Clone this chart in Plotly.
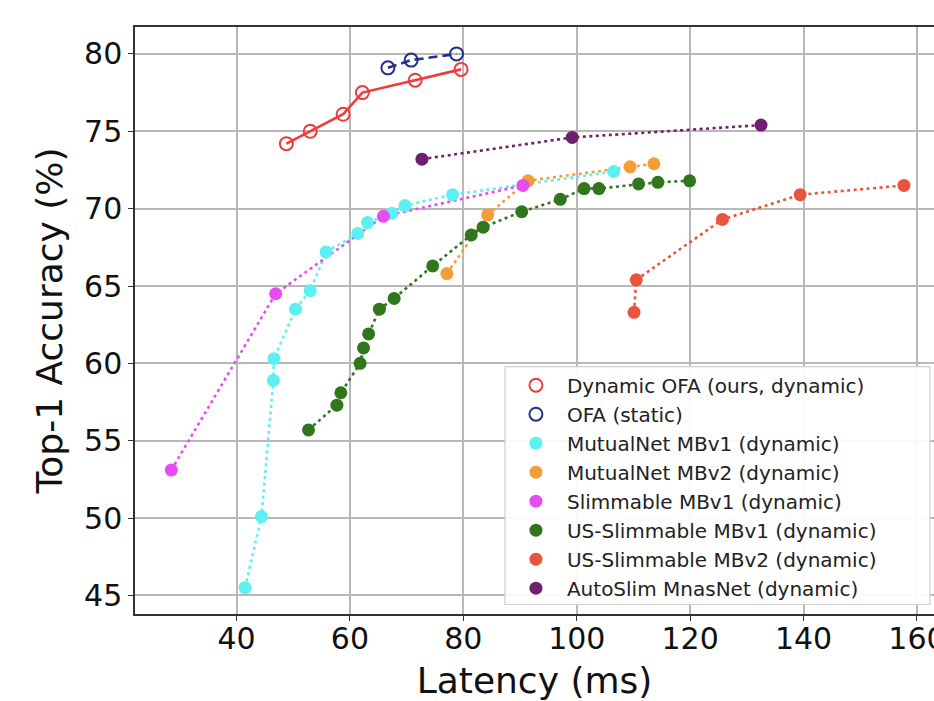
import plotly.graph_objects as go

# ---- data (latency ms, top-1 accuracy %) ----
dyn_ofa_x = [48.8, 53.0, 58.8, 62.2, 71.5, 79.6]
dyn_ofa_y = [74.2, 75.0, 76.1, 77.5, 78.3, 79.0]

ofa_x = [66.7, 70.8, 78.8]
ofa_y = [79.1, 79.6, 80.0]

mn1_x = [41.5, 44.4, 46.5, 46.6, 50.4, 53.0, 55.8, 61.4, 63.1, 67.4, 69.7, 78.1, 106.5]
mn1_y = [45.5, 50.1, 58.9, 60.3, 63.5, 64.7, 67.2, 68.4, 69.1, 69.7, 70.2, 70.9, 72.4]

mn2_x = [77.1, 84.3, 91.4, 109.4, 113.6]
mn2_y = [65.8, 69.6, 71.8, 72.7, 72.9]

sl1_x = [28.5, 46.9, 65.9, 90.5]
sl1_y = [53.1, 64.5, 69.5, 71.5]

us1_x = [52.7, 57.7, 58.4, 61.8, 62.4, 63.3, 65.2, 67.8, 74.6, 81.4, 83.5, 90.3,
         97.1, 101.3, 103.9, 110.9, 114.3, 119.9]
us1_y = [55.7, 57.3, 58.1, 60.0, 61.0, 61.9, 63.5, 64.2, 66.3, 68.3, 68.8, 69.8,
         70.6, 71.3, 71.3, 71.6, 71.7, 71.8]

us2_x = [110.1, 110.5, 125.7, 139.4, 157.7]
us2_y = [63.3, 65.4, 69.3, 70.9, 71.5]

auto_x = [72.7, 99.2, 132.5]
auto_y = [73.2, 74.6, 75.4]

x_ticks = [40, 60, 80, 100, 120, 140, 160]
y_ticks = [45, 50, 55, 60, 65, 70, 75, 80]

series = [
    ("Dynamic OFA (ours, dynamic)", dyn_ofa_x, dyn_ofa_y, "#ee3b3b", "solid", True),
    ("OFA (static)", ofa_x, ofa_y, "#252f8c", "dash", True),
    ("MutualNet MBv1 (dynamic)", mn1_x, mn1_y, "#5cf0f2", "dot", False),
    ("MutualNet MBv2 (dynamic)", mn2_x, mn2_y, "#f59d35", "dot", False),
    ("Slimmable MBv1 (dynamic)", sl1_x, sl1_y, "#e64cf3", "dot", False),
    ("US-Slimmable MBv1 (dynamic)", us1_x, us1_y, "#2f761c", "dot", False),
    ("US-Slimmable MBv2 (dynamic)", us2_x, us2_y, "#e9553c", "dot", False),
    ("AutoSlim MnasNet (dynamic)", auto_x, auto_y, "#6e1f6f", "dot", False),
]

fig = go.Figure()
for i, (name, xs, ys, col, dash, hollow) in enumerate(series):
    dashval = {"solid": "solid", "dash": "9px,5px", "dot": "3px,3.5px"}[dash]
    fig.add_trace(go.Scatter(
        x=xs, y=ys, mode="lines", showlegend=False,
        line=dict(color=col, width=2.6, dash=dashval), hoverinfo="skip"))
for i, (name, xs, ys, col, dash, hollow) in enumerate(series):
    if hollow:
        marker = dict(symbol="circle-open", size=13, color=col, line=dict(width=2, color=col))
    else:
        marker = dict(symbol="circle", size=13, color=col, line=dict(width=0))
    fig.add_trace(go.Scatter(
        x=xs, y=ys, mode="markers", name=name, marker=marker,
        legendgroup="g%d" % i))

# legend frame (drawn as a shape so it can be as wide as the reference frame)
fig.add_shape(type="rect", xref="paper", yref="paper",
              x0=0.4631, x1=0.995, y0=0.0162, y1=0.4213,
              fillcolor="rgba(255,255,255,0.92)", line=dict(color="#cfcfcf", width=1.2),
              layer="above")

font = "DejaVu Sans"
fig.update_layout(
    width=934, height=701,
    margin=dict(l=135, r=0, t=27, b=87),
    paper_bgcolor="white", plot_bgcolor="white",
    font=dict(family=font, color="black"),
    showlegend=True,
    legend=dict(
        x=0.463, y=0.423, xanchor="left", yanchor="top",
        bgcolor="rgba(0,0,0,0)", borderwidth=0,
        font=dict(family=font, size=20, color="#222222"),
        tracegroupgap=0, itemwidth=52,
    ),
    xaxis=dict(
        range=[22.1, 163.0], tickvals=x_ticks, automargin=False,
        showgrid=True, gridcolor="#b8b8b8", gridwidth=1.5,
        showline=True, linecolor="#333333", linewidth=1.5, mirror=True,
        ticks="outside", ticklen=5, tickwidth=1.2, tickcolor="#333333",
        tickfont=dict(family=font, size=30, color="#111111"),
        ticklabeloverflow="allow", ticklabelstandoff=-8,
        title=dict(text="Latency (ms)", font=dict(family=font, size=36, color="#111111"), standoff=13),
        zeroline=False,
    ),
    yaxis=dict(
        range=[43.8, 81.74], tickvals=y_ticks, automargin=False,
        showgrid=True, gridcolor="#b8b8b8", gridwidth=1.5,
        showline=True, linecolor="#333333", linewidth=1.5, mirror=False,
        ticks="outside", ticklen=5, tickwidth=1.2, tickcolor="#333333",
        tickfont=dict(family=font, size=30, color="#111111"),
        title=dict(text="Top-1 Accuracy (%)", font=dict(family=font, size=36, color="#111111"), standoff=10),
        zeroline=False,
    ),
)

fig.write_html("out.html")
